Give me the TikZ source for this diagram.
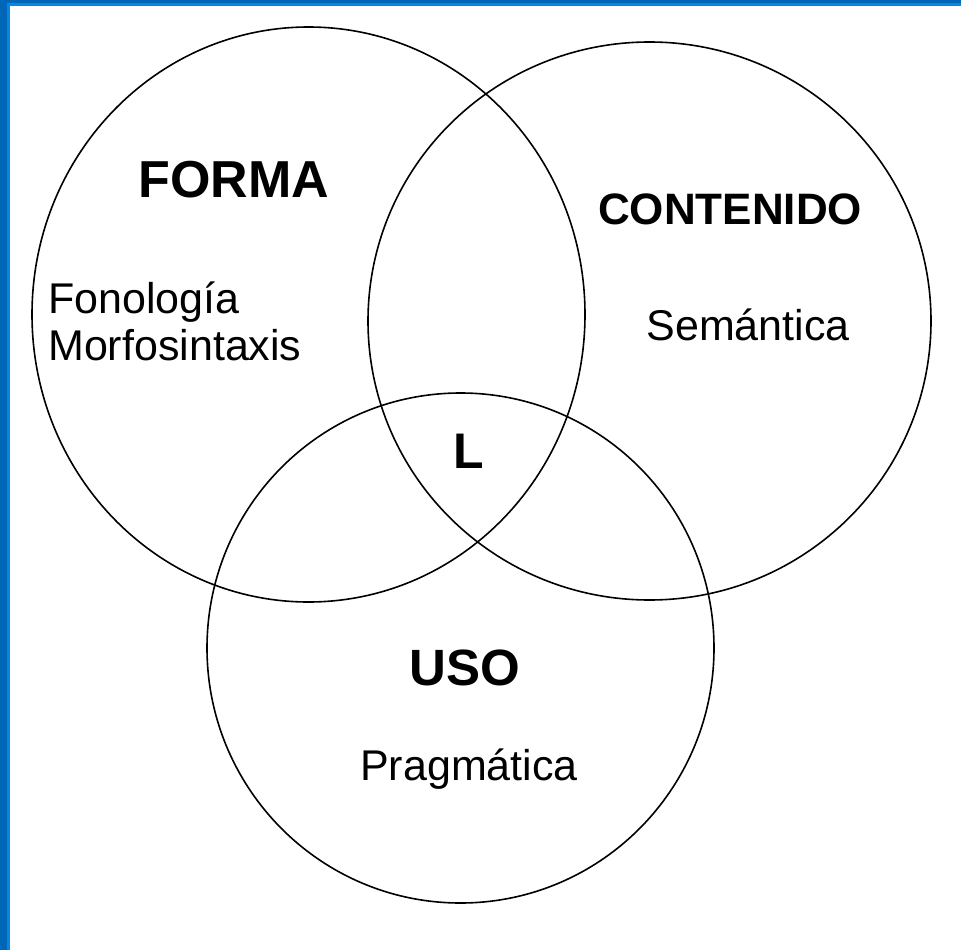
\documentclass[tikz,border=0pt]{standalone}
\usepackage{fontspec}
\setmainfont{Liberation Sans}
\definecolor{bdark}{HTML}{0066B8}
\definecolor{blight}{HTML}{0A86E2}
\begin{document}
\begin{tikzpicture}[x=1pt,y=-1pt,
  ring/.style={draw=black,line width=1.6pt},
  bigtitle/.style={font=\fontsize{52}{52}\selectfont\bfseries,anchor=base,inner sep=0pt},
  midtitle/.style={font=\fontsize{44}{44}\selectfont\bfseries,anchor=base,inner sep=0pt},
  body/.style={font=\fontsize{43}{43}\selectfont,anchor=base,inner sep=0pt}]
\useasboundingbox (0,0) rectangle (961,950);
\fill[white] (0,0) rectangle (961,950);
% border
\fill[blight] (0,0) rectangle (961,6);
\fill[blight] (0,0) rectangle (10,950);
\fill[bdark] (0,0) rectangle (961,3.5);
\fill[bdark] (0,0) rectangle (7,950);
% circles
\draw[ring] (308.5,314.5) ellipse [x radius=276.5, y radius=287.5];
\draw[ring] (649.5,321) ellipse [x radius=281.5, y radius=279];
\draw[ring] (460.5,648) ellipse [x radius=253.5, y radius=255];
% texts
\node[bigtitle] (forma) at (234,197) {FORMA};
\node[midtitle] (contenido) at (730,224) {CONTENIDO};
\node[body,anchor=base west] (fono) at (48,313) {Fonología};
\node[body,anchor=base west] (morfo) at (48,360) {Morfosintaxis};
\node[body] (sem) at (748,340) {Semántica};
\node[font=\fontsize{50}{50}\selectfont\bfseries,anchor=base,inner sep=0pt] (l) at (469,468) {L};
\node[bigtitle,font=\fontsize{51}{51}\selectfont\bfseries] (uso) at (465,685) {USO};
\node[body] (prag) at (469,780) {Pragmática};
\end{tikzpicture}
\end{document}
